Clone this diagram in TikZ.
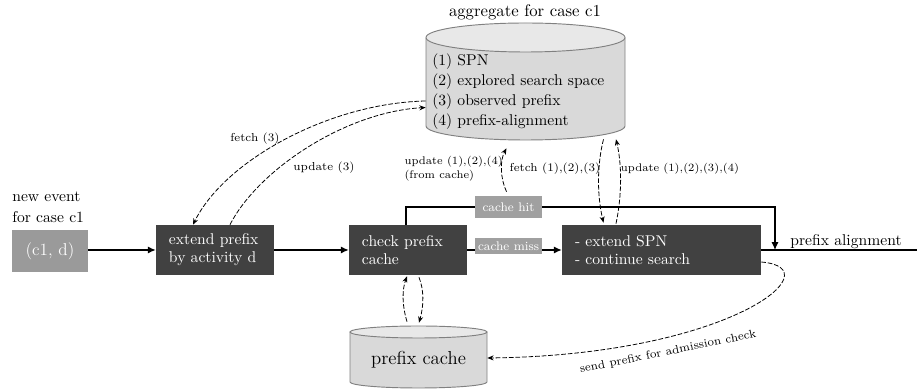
\documentclass[tikz,border=0pt]{standalone}
\usetikzlibrary{arrows.meta,calc}
\definecolor{darkbox}{HTML}{414141}
\definecolor{lblgray}{HTML}{A0A0A0}
\definecolor{evgray}{HTML}{9A9A9A}
\definecolor{cylbody}{HTML}{D9D9D9}
\definecolor{cyltop}{HTML}{E8E8E8}
\definecolor{cylborder}{HTML}{808080}
\begin{document}
\begin{tikzpicture}[x=0.64pt,y=-0.64pt,
  procbox/.style={fill=darkbox,text=white,inner xsep=8.3pt,inner ysep=0pt,align=left,minimum height=32pt,font=\fontsize{10}{11.5}\selectfont},
  tagbox/.style={fill=lblgray,text=white,inner sep=0pt,minimum width=42.9pt,font=\fontsize{8}{9}\selectfont},
  flow/.style={line width=0.75pt,-{Latex[length=5pt,width=4.5pt]}},
  dataflow/.style={line width=0.5pt,dash pattern=on 3pt off 1.2pt,-{Stealth[length=4pt,width=3.2pt]}},
  small/.style={font=\fontsize{7.4}{9}\selectfont},
  cylline/.style={draw=cylborder,line width=0.6pt}
]
\useasboundingbox (0,0) rectangle (917,391);

% aggregate cylinder
\path[cylline,fill=cylbody] (426,38) -- (426,126) arc[start angle=180,end angle=0,x radius=99.5,y radius=14] -- (625,38) -- cycle;
\path[cylline,fill=cyltop] (525.5,37.5) ellipse[x radius=99.5,y radius=14.5];
\node[minimum width=127.4pt,minimum height=74.9pt,inner sep=0pt] (agg) at (525.5,81.5) {};
\node[anchor=west,align=left,inner sep=0pt,font=\fontsize{10}{12.8}\selectfont] (aggtext) at (432,92) {(1) SPN\\(2) explored search space\\(3) observed prefix\\(4) prefix-alignment};
\node[font=\fontsize{10.7}{13}\selectfont] (aggtitle) at (525,12) {aggregate for case c1};

% prefix cache cylinder
\path[cylline,fill=cylbody] (350,332) -- (350,382) arc[start angle=180,end angle=0,x radius=68.5,y radius=6] -- (487,332) -- cycle;
\path[cylline,fill=cyltop] (418.5,332) ellipse[x radius=68.5,y radius=6];
\node[minimum width=87.7pt,minimum height=39.7pt,inner sep=0pt] (pcache) at (418.5,357) {};
\node[font=\fontsize{12}{14}\selectfont] (pctext) at (418.5,360) {prefix cache};

% event
\node[anchor=west,align=left,inner sep=0pt,font=\fontsize{10}{13.4}\selectfont] (evlabel) at (12,207) {new event\\for case c1};
\node[fill=evgray,text=white,minimum width=48.6pt,minimum height=27.5pt,inner sep=0pt,font=\fontsize{11}{13}\selectfont] (ev) at (50,251) {(c1, d)};

% process boxes
\node[procbox,text width=58.9pt] (ext) at (215,250) {extend prefix\\by activity d};
\node[procbox,text width=58.9pt] (check) at (408,250) {check prefix\\cache};
\node[procbox,text width=110.7pt] (spn) at (661.5,250) {- extend SPN\\- continue search};

\coordinate (join) at (775,250);
\coordinate (hitc) at (775,207);
\coordinate (out) at (917,250);

% solid flow
\draw[flow] (ev.east |- ext.west) -- (ext.west);
\draw[flow] (ext.east) -- (check.west);
\draw[flow] (check.east) -- (spn.west);
\draw[line width=0.75pt] (spn.east) -- (out);
\draw[flow] ($(check.north)+(-2,0)$) |- (hitc) -- (join);
\node[tagbox,minimum height=14.1pt] (cachehit) at (508.5,207) {cache hit};
\node[tagbox,minimum height=10.2pt] (cachemiss) at (508.5,246) {cache miss};
\node[anchor=base,font=\fontsize{10}{12}\selectfont] (palabel) at (846,246) {prefix alignment};

% data flows
\draw[dataflow] ($(agg.west)+(0,19.5)$) .. controls (330,103) and (225,160) .. ($(ext.north)+(-22,0)$);
\draw[dataflow] ($(ext.north)+(15,0)$) .. controls (258,170) and (345,112) .. ($(agg.west)+(0,26)$);
\draw[dataflow] ($(cachehit.north)+(-2,-4)$) .. controls (500,178) and (500,160) .. ($(agg.south)+(-19,8)$);
\draw[dataflow] ($(agg.south)+(78,-1)$) .. controls (597,165) and (597,195) .. ($(spn.north)+(-58,-2)$);
\draw[dataflow] ($(spn.north)+(-45.5,-1)$) .. controls (622,195) and (622,165) .. ($(agg.south)+(90.5,-1)$);
\draw[dataflow] ($(pcache.north)+(-11.5,-4)$) .. controls (402,305) and (402,290) .. ($(check.south)+(-1,1)$);
\draw[dataflow] ($(check.south)+(11,2)$) .. controls (424,290) and (424,305) .. ($(pcache.north)+(0.5,-3)$);
\draw[dataflow] ($(spn.east)+(0,12)$) .. controls (835,268) and (730,355) .. ($(pcache.east)+(0,1)$);

% labels
\node[small] (lf3) at (255,139) {fetch (3)};
\node[small] (lu3) at (324,168) {update (3)};
\node[font=\fontsize{7.1}{9}\selectfont,anchor=west,align=left] (lu124) at (399,169) {update (1),(2),(4)\\(from cache)};
\node[small] (lf123) at (555,169) {fetch (1),(2),(3)};
\node[font=\fontsize{7.1}{9}\selectfont] (lu1234) at (680,169) {update (1),(2),(3),(4)};
\node[small,rotate=11.5] (lsend) at (668,352) {send prefix for admission check};
\end{tikzpicture}
\end{document}
